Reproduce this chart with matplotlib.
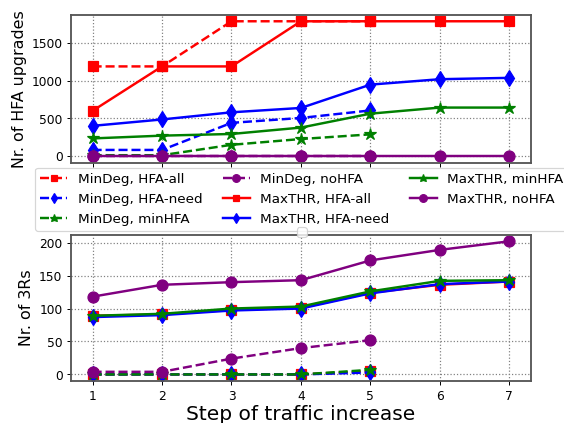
import numpy as np
import matplotlib
matplotlib.use('Agg')
import matplotlib.pyplot as plt

# --- data ---
steps_all = [1, 2, 3, 4, 5, 6, 7]
steps_min = [1, 2, 3, 4, 5]

# top panel: number of HFA upgrades
up_md_all = [1190, 1190, 1790, 1790, 1790]
up_md_need = [80, 80, 440, 505, 605]
up_md_min = [10, 10, 148, 225, 287]
up_md_no = [0, 0, 0, 0, 0]
up_mt_all = [600, 1190, 1190, 1790, 1790, 1790, 1790]
up_mt_need = [400, 485, 580, 638, 948, 1020, 1038]
up_mt_min = [233, 270, 292, 377, 562, 643, 643]
up_mt_no = [0, 0, 0, 0, 0, 0, 0]

# bottom panel: number of 3Rs
rs_md_all = [0, 0, 0, 0, 5]
rs_md_need = [0, 0, 0, 0, 3]
rs_md_min = [0, 0, 0, 0, 7]
rs_md_no = [4, 4, 24, 40, 52]
rs_mt_all = [89, 91, 98, 101, 124, 136, 141]
rs_mt_need = [87, 90, 97, 100, 123, 137, 141]
rs_mt_min = [89, 92, 100, 103, 126, 142, 143]
rs_mt_no = [118, 136, 140, 143, 173, 189, 202]

labels = ['MinDeg, HFA-all', 'MinDeg, HFA-need', 'MinDeg, minHFA', 'MinDeg, noHFA',
          'MaxTHR, HFA-all', 'MaxTHR, HFA-need', 'MaxTHR, minHFA', 'MaxTHR, noHFA']
colors = ['red', 'blue', 'green', 'purple']
markers = ['s', 'd', '*', 'o']
msizes = [8, 9, 10, 9]

fig = plt.figure(figsize=(6.41, 4.81), dpi=88)
ax1 = fig.add_axes([0.126, 0.615, 0.815, 0.35])
ax2 = fig.add_axes([0.126, 0.099, 0.815, 0.346])

top_md = [up_md_all, up_md_need, up_md_min, up_md_no]
top_mt = [up_mt_all, up_mt_need, up_mt_min, up_mt_no]
bot_md = [rs_md_all, rs_md_need, rs_md_min, rs_md_no]
bot_mt = [rs_mt_all, rs_mt_need, rs_mt_min, rs_mt_no]

handles = []
for ax, md, mt in [(ax1, top_md, top_mt), (ax2, bot_md, bot_mt)]:
    hs = []
    for i in range(4):
        h, = ax.plot(steps_min, md[i], ls='--', color=colors[i], marker=markers[i],
                     markersize=msizes[i], lw=2, label=labels[i])
        hs.append(h)
    for i in range(4):
        h, = ax.plot(steps_all, mt[i], ls='-', color=colors[i], marker=markers[i],
                     markersize=msizes[i], lw=2, label=labels[4 + i])
        hs.append(h)
    if ax is ax1:
        handles = hs
    ax.grid(True, ls=':', color='gray', lw=1)
    ax.set_xticks(steps_all)
    ax.tick_params(labelsize=10)
    for s in ax.spines.values():
        s.set_color('#555555')
        s.set_linewidth(1.5)

ax1.set_xlim(0.69, 7.31)
ax2.set_xlim(0.69, 7.31)
ax1.set_xticklabels([])
ax1.set_yticks([0, 500, 1000, 1500])
ax2.set_yticks([0, 50, 100, 150, 200])
ax1.set_ylabel('Nr. of HFA upgrades', fontsize=13)
ax2.set_ylabel('Nr. of 3Rs', fontsize=13)
ax2.set_xlabel('Step of traffic increase', fontsize=16.5, labelpad=2)

fig.legend(handles=handles, labels=labels, ncol=3, fontsize=11, loc='upper left',
           bbox_to_anchor=(0.062, 0.603), columnspacing=1.5, handletextpad=0.8,
           borderaxespad=0, markerscale=0.7)
fig.legend(handles=[], loc='center', bbox_to_anchor=(0.535, 0.451))

fig.savefig('out.png', dpi=88)
